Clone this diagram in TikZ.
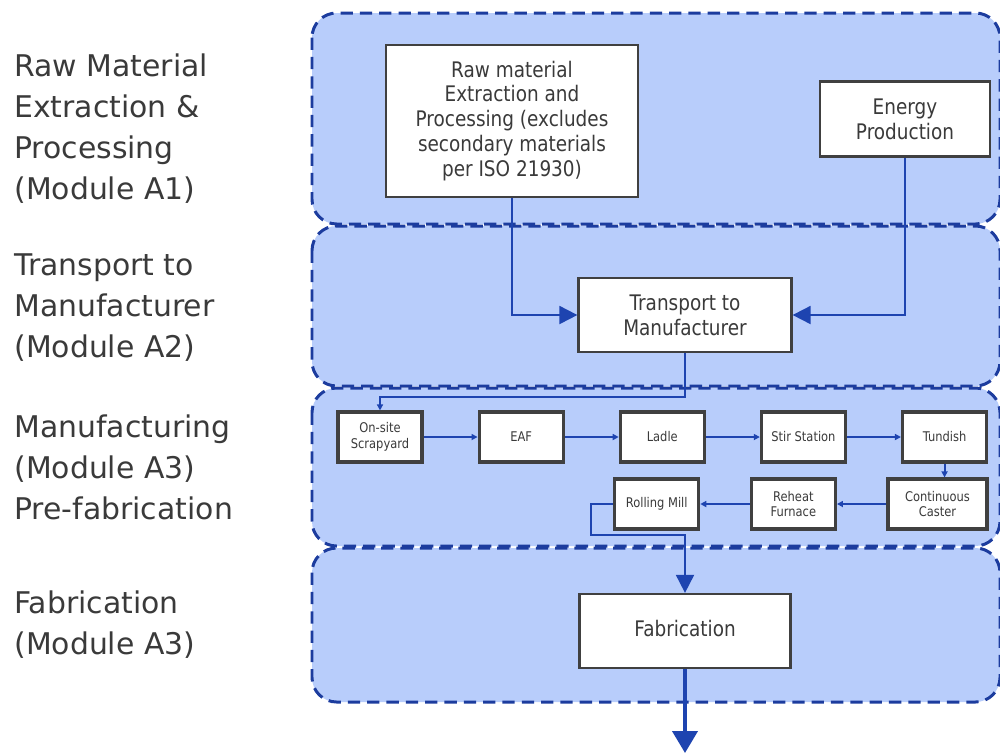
\documentclass[tikz,border=0pt]{standalone}
\usepackage{fontspec}
\setmainfont{DejaVu Sans}
\newfontfamily\boxfont{DejaVu Sans}[FakeStretch=0.86]
\usetikzlibrary{positioning,arrows.meta}
\definecolor{bandfill}{HTML}{B8CDFB}
\definecolor{bandline}{HTML}{1C3C9E}
\definecolor{linkblue}{HTML}{1E44B0}
\definecolor{boxline}{HTML}{404040}
\definecolor{txtgray}{HTML}{3A3A3A}
\tikzset {
band/.style={draw=bandline,fill=bandfill,line width=1.7pt,dash pattern=on 7pt off 4pt,rounded corners=14pt},
modul/.style={anchor=base west,align=left,inner sep=0pt,text=txtgray,font=\fontsize{17}{23.3}\selectfont},
prozess/.style={shape=rectangle,draw=boxline,line width=1.3pt,fill=white,align=center,inner sep=0pt,text=txtgray,font=\boxfont\fontsize{12.2}{14.2}\selectfont},
station/.style={shape=rectangle,draw=boxline,line width=1.8pt,fill=white,align=center,inner sep=0pt,minimum width=1.68cm,minimum height=1cm,text=txtgray,font=\boxfont\fontsize{7.6}{9}\selectfont},
pfeil/.style={draw=linkblue,line width=1.1pt,-{Triangle[length=0.36cm,width=0.36cm]}},
kleinpfeil/.style={draw=linkblue,line width=1.1pt,-{Triangle[length=0.12cm,width=0.12cm]}},
dickpfeil/.style={draw=linkblue,line width=2.3pt,-{Triangle[length=0.44cm,width=0.5cm]}}
}
\begin{document}
\begin{tikzpicture}
[x=0.02cm,y=-0.02cm]
\useasboundingbox (0,0) rectangle (1000,755);
% module bands
\draw[band] (312,13) rectangle (1000,224);
\draw[band] (312,226) rectangle (1000,386);
\draw[band] (312,388) rectangle (1000,546);
\draw[band] (312,548) rectangle (1000,702);

% module labels (anchored at the last line)
\node[modul] (label a1) at (14,199) {Raw Material\\Extraction \&\\Processing\\(Module A1)};
\node[modul] (label a2) at (14,357) {Transport to\\Manufacturer\\(Module A2)};
\node[modul] (label a3) at (14,519) {Manufacturing\\(Module A3)\\Pre-fabrication};
\node[modul] (label fab) at (14,654) {Fabrication\\(Module A3)};

% A1 and A2
\node[prozess,minimum width=5.04cm,minimum height=3.04cm] (raw material) at (512,121) {Raw material\\Extraction and\\Processing (excludes\\secondary materials\\per ISO 21930)};
\node[prozess,minimum width=3.4cm,minimum height=1.5cm] (energy production) at (905,119) {Energy\\Production};
\node[prozess,minimum width=4.26cm,minimum height=1.48cm] (transport) at (685,315) {Transport to\\Manufacturer};

% A3 steel making
\node[station] (scrapyard) at (380,437) {On-site\\Scrapyard};
\node[station] (eaf) [right=1.08cm of scrapyard] {EAF};
\node[station] (ladle) [right=1.08cm of eaf] {Ladle};
\node[station] (stir station) [right=1.08cm of ladle] {Stir Station};
\node[station] (tundish) [right=1.08cm of stir station] {Tundish};
\node[station,minimum width=1.98cm] (caster) at (937.5,504) {Continuous\\Caster};
\node[station] (reheat furnace) [left=0.99cm of caster] {Reheat\\Furnace};
\node[station] (rolling mill) [left=0.99cm of reheat furnace] {Rolling Mill};

% fabrication
\node[prozess,minimum width=4.22cm,minimum height=1.48cm] (fabrication) at (685,631) {\raisebox{0.12cm}{Fabrication}};
\coordinate (ausgang) at (685,753);

\draw[pfeil] (raw material.south) |- (transport.west);
\draw[pfeil] (energy production.south) |- (transport.east);
\draw[kleinpfeil] (transport.south) -- ++(0,44) -| (scrapyard.north);
\draw[kleinpfeil] (scrapyard) -- (eaf);
\draw[kleinpfeil] (eaf) -- (ladle);
\draw[kleinpfeil] (ladle) -- (stir station);
\draw[kleinpfeil] (stir station) -- (tundish);
\draw[kleinpfeil] (tundish.south) -- (tundish.south |- caster.north);
\draw[kleinpfeil] (caster) -- (reheat furnace);
\draw[kleinpfeil] (reheat furnace) -- (rolling mill);
\draw[pfeil] (rolling mill.west) -- ++(-22,0) -- ++(0,31) -| (fabrication.north);
\draw[dickpfeil] (fabrication) -- (ausgang);
\end{tikzpicture}
\end{document}
